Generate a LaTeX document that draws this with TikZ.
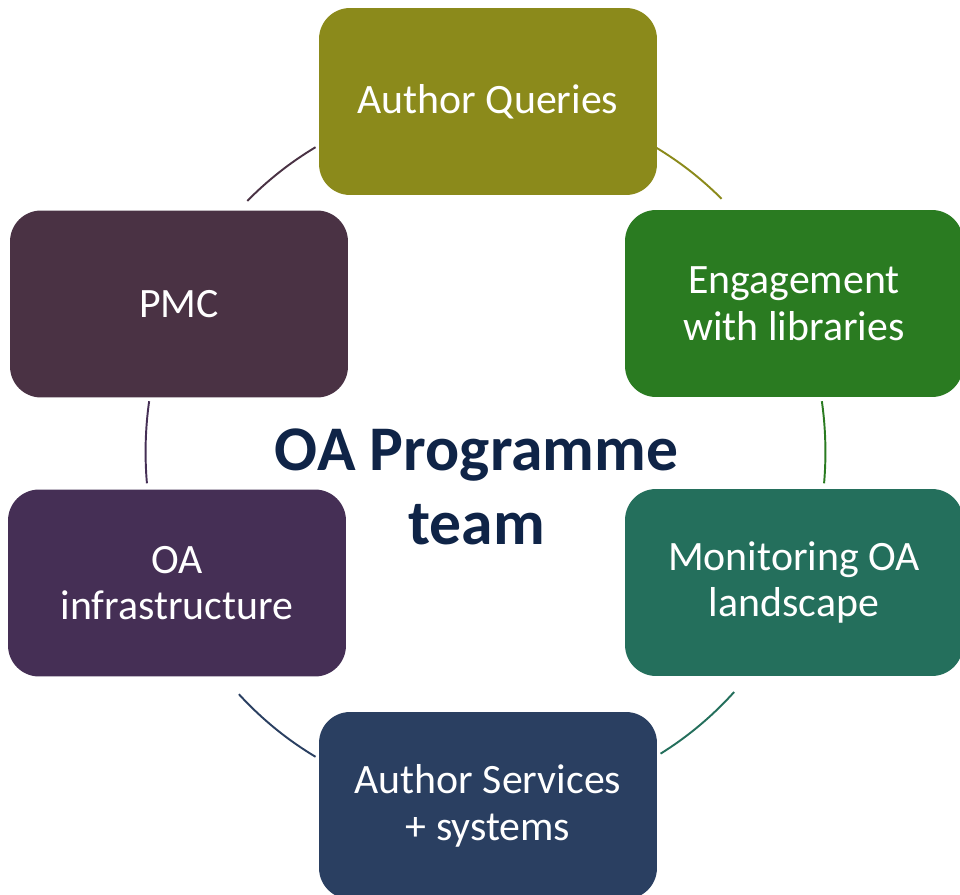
\documentclass[tikz,border=0pt]{standalone}
\usepackage{fontspec}
\setmainfont{Carlito}
\usetikzlibrary{calc}
\definecolor{cAQ}{HTML}{8B8A1B}
\definecolor{cEng}{HTML}{2A7B21}
\definecolor{cMon}{HTML}{246F5C}
\definecolor{cAS}{HTML}{2A3F61}
\definecolor{cOAI}{HTML}{452F55}
\definecolor{cPMC}{HTML}{4A3244}
\definecolor{cTitle}{HTML}{0F2447}
\begin{document}
\begin{tikzpicture}[x=0.02cm,y=0.02cm,
  box/.style={rectangle, rounded corners=0.62cm, minimum width=6.76cm, minimum height=3.74cm,
    inner sep=0pt, text=white, align=center, font=\fontsize{23.8}{26.6}\selectfont},
  ring/.style={line width=1.1pt}]
\clip[use as bounding box] (0,0) rectangle (960,894);
\coordinate (c) at (485.5,442);
% boxes
\node[box, fill=cAQ]  (aq)  at (488,792.5) {Author Queries};
\node[box, fill=cEng] (eng) at (794,590.5) {Engagement\\with libraries};
\node[box, fill=cMon] (mon) at (794,311.5) {Monitoring OA\\landscape};
\node[box, fill=cAS]  (as)  at (488,88.5)  {Author Services\\+ systems};
\node[box, fill=cOAI] (oai) at (177,311)   {OA\\infrastructure};
\node[box, fill=cPMC] (pmc) at (179,590)   {PMC};
% title
\node[text=cTitle, align=center, font=\fontsize{36.2}{42.5}\selectfont\bfseries] (title) at (476.5,407) {OA Programme\\team};
% ring arcs
\draw[ring, cPMC] ($(c)+(134.5:6.8cm and 7.04cm)$) arc[start angle=134.5, end angle=120, x radius=6.8cm, y radius=7.04cm];
\draw[ring, cAQ]  ($(c)+(60:6.8cm and 7.04cm)$)  arc[start angle=60, end angle=46, x radius=6.8cm, y radius=7.04cm];
\draw[ring, cEng] ($(c)+(8.3:6.8cm and 7.04cm)$) arc[start angle=8.3, end angle=-5.1, x radius=6.8cm, y radius=7.04cm];
\draw[ring, cMon] ($(c)+(-43:6.8cm and 7.04cm)$) arc[start angle=-43, end angle=-59, x radius=6.8cm, y radius=7.04cm];
\draw[ring, cAS]  ($(c)+(240:6.8cm and 7.04cm)$) arc[start angle=240, end angle=223.5, x radius=6.8cm, y radius=7.04cm];
\draw[ring, cOAI] ($(c)+(185.1:6.8cm and 7.04cm)$) arc[start angle=185.1, end angle=171.7, x radius=6.8cm, y radius=7.04cm];
\end{tikzpicture}
\end{document}
